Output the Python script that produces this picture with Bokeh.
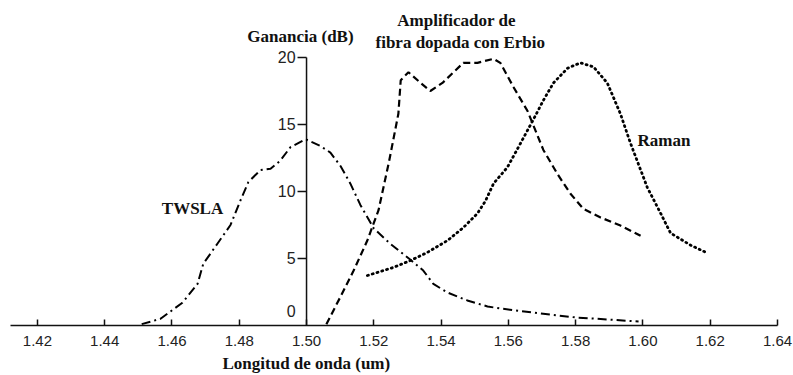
from bokeh.plotting import figure
from bokeh.models import FixedTicker, Label, NumeralTickFormatter, Title
from bokeh.core.properties import value
from bokeh.embed import file_html
from bokeh.resources import INLINE

# ---- data ----
x_ticks = [1.42, 1.44, 1.46, 1.48, 1.50, 1.52, 1.54, 1.56, 1.58, 1.60, 1.62, 1.64]
y_ticks = [5, 10, 15, 20]
y_tick_labels = ["5", "10", "15", "20"]

twsla_x = [1.451, 1.4566, 1.4631, 1.4676, 1.4693, 1.4735, 1.4774, 1.4803, 1.4827, 1.4863,
           1.4893, 1.4922, 1.4952, 1.4997, 1.5041, 1.5071, 1.5101, 1.513, 1.516, 1.52,
           1.5249, 1.5309, 1.5347, 1.5377, 1.5419, 1.5478, 1.5538, 1.5576, 1.5695, 1.58, 1.5987]
twsla_y = [0.1, 0.5, 1.7, 3.1, 4.6, 6.1, 7.5, 9.3, 10.7, 11.6,
           11.7, 12.3, 13.3, 13.9, 13.4, 12.9, 11.9, 10.6, 9.0, 7.24,
           6.1, 4.9, 4.1, 3.1, 2.46, 1.87, 1.42, 1.27, 0.9, 0.6, 0.3]

edfa_x = [1.5059, 1.51, 1.514, 1.518, 1.5214, 1.5245, 1.5273, 1.528, 1.5303, 1.5339,
          1.5368, 1.5404, 1.5437, 1.5466, 1.5508, 1.5556, 1.5576, 1.5615, 1.5657, 1.5704,
          1.5746, 1.5784, 1.5823, 1.5874, 1.5933, 1.5993]
edfa_y = [0.1, 2.1, 4.1, 6.3, 8.6, 12.2, 15.8, 18.3, 18.9, 18.1,
          17.5, 18.1, 18.9, 19.6, 19.6, 19.9, 19.6, 17.8, 16.0, 13.1,
          11.3, 9.85, 8.7, 8.06, 7.46, 6.7]

raman_x = [1.5181, 1.5258, 1.5309, 1.5359, 1.5419, 1.5466, 1.5508, 1.5532, 1.5556, 1.5597,
           1.5621, 1.5675, 1.5704, 1.5734, 1.5776, 1.5814, 1.5853, 1.5894, 1.5933, 1.5963,
           1.6013, 1.6052, 1.6082, 1.6141, 1.6192]
raman_y = [3.73, 4.33, 4.85, 5.45, 6.34, 7.3, 8.36, 9.3, 10.6, 11.8,
           12.9, 15.4, 16.8, 18.1, 19.2, 19.6, 19.3, 18.1, 15.8, 13.6,
           10.3, 8.4, 6.9, 6.0, 5.4]

AXIS_X = 1.50
Y_TOP = 20

SERIF = "Liberation Serif"
SANS = "Liberation Sans"

p = figure(width=793, height=375, x_range=(1.412, 1.64), y_range=(0, 24.25),
           output_backend="svg", toolbar_location=None, y_axis_location=None,
           min_border_left=10, min_border_right=16, min_border_top=0, min_border_bottom=50)
p.outline_line_color = None
p.xgrid.visible = False
p.ygrid.visible = False
p.background_fill_color = "white"

xa = p.xaxis[0]
xa.ticker = FixedTicker(ticks=x_ticks)
xa.formatter = NumeralTickFormatter(format="0.00")
xa.major_tick_in = 6
xa.major_tick_out = 0
xa.minor_tick_line_color = None
xa.axis_line_width = 1.5
xa.major_tick_line_width = 1.5
xa.axis_line_color = "#111111"
xa.major_tick_line_color = "#111111"
xa.major_label_text_font = SANS
xa.major_label_text_font_size = "15px"
xa.major_label_text_color = "#222222"
xa.major_label_standoff = 10

# x-axis title, placed under the 1.50 position as in the original
p.add_layout(Title(text="Longitud de onda (um)", align="left", offset=212, standoff=6,
                   text_font=SERIF, text_font_style="bold", text_font_size="17px",
                   text_color="#111111"), "below")

# vertical axis in the middle of the chart
p.line([AXIS_X, AXIS_X], [0, Y_TOP], line_color="#111111", line_width=1.5)
p.ray(x=[AXIS_X] * len(y_ticks), y=y_ticks, length=9, length_units="screen",
      angle=3.14159265, line_color="#111111", line_width=1.5)
p.text(x=[AXIS_X] * len(y_ticks), y=y_ticks, text=y_tick_labels, x_offset=-11,
       text_align="right", text_baseline="middle", text_font=value(SANS),
       text_font_size="16px", text_color="#222222")
p.add_layout(Label(x=AXIS_X, y=1.05, text="0", x_offset=-11, text_align="right",
                   text_baseline="middle", text_font=SANS, text_font_size="16px",
                   text_color="#222222"))

# curves
p.line(twsla_x, twsla_y, line_color="black", line_width=2, line_dash="9 4 2 4")
p.line(edfa_x, edfa_y, line_color="black", line_width=2.2, line_dash="7 4")
p.line(raman_x, raman_y, line_color="black", line_width=2.8, line_dash="1 4",
       line_cap="round")

def lab(x, y, t, align="center"):
    p.add_layout(Label(x=x, y=y, text=t, text_align=align, text_baseline="middle",
                       text_font=SERIF, text_font_style="bold", text_font_size="17px",
                       text_color="#111111"))

lab(1.4982, 21.57, "Ganancia (dB)")
lab(1.5446, 22.76, "Amplificador de")
lab(1.5457, 21.12, "fibra dopada con Erbio")
lab(1.4661, 8.73, "TWSLA")
lab(1.5984, 13.8, "Raman", align="left")

open("out.html", "w").write(file_html(p, INLINE))
